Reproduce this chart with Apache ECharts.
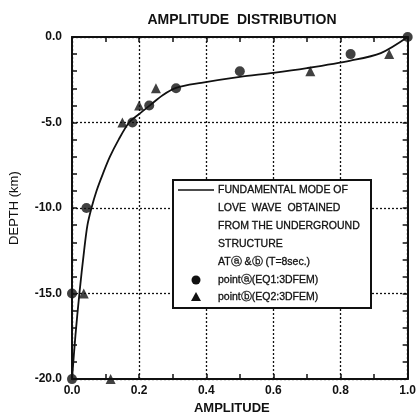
<!DOCTYPE html>
<html>
<head>
<meta charset="utf-8">
<script src="https://cdn.jsdelivr.net/npm/echarts@6/dist/echarts.min.js"></script>
<style>
  html, body { margin: 0; padding: 0; background: #fff; }
  #chart { width: 419px; height: 420px; }
</style>
</head>
<body>
<div id="chart"></div>
<script>
// Love-wave amplitude vs depth: theoretical mode shape and 3D FEM samples
const titleText = 'AMPLITUDE  DISTRIBUTION';
const xName = 'AMPLITUDE';
const yName = 'DEPTH (km)';

// Fundamental mode curve: [amplitude, depth km]
const modeCurve = [
  [1.0, 0], [0.92, -0.94], [0.83, -1.38], [0.70, -1.82], [0.60, -2.1],
  [0.50, -2.33], [0.385, -2.68], [0.31, -2.97], [0.27, -3.4], [0.232, -4.0],
  [0.2, -4.5], [0.17, -5.0], [0.139, -6.0], [0.113, -7.0], [0.092, -8.0],
  [0.073, -9.0], [0.058, -10.0], [0.046, -11.0], [0.036, -12.5], [0.022, -15.0],
  [0.01, -17.5], [0.0, -20.0]
];

// point (a), EQ1 3D FEM
const pointA = [
  [1.0, 0], [0.83, -1.0], [0.50, -2.0], [0.31, -3.0], [0.23, -4.0],
  [0.18, -5.0], [0.043, -10.0], [0.0, -15.0], [0.0, -20.0]
];

// point (b), EQ2 3D FEM
const pointB = [
  [0.945, -1.0], [0.71, -2.0], [0.25, -3.0], [0.20, -4.0],
  [0.15, -5.0], [0.035, -15.0], [0.115, -20.0]
];

const legendLines = [
  'FUNDAMENTAL MODE OF',
  'LOVE  WAVE  OBTAINED',
  'FROM THE UNDERGROUND',
  'STRUCTURE',
  'AT\u24D0 &\u24D1 (T=8sec.)'
];
const legendA = 'point\u24D0(EQ1:3DFEM)';
const legendB = 'point\u24D1(EQ2:3DFEM)';

const FONT = 'Arial, "Liberation Sans", Helvetica, sans-serif';
const INK = '#111';

const chart = echarts.init(document.getElementById('chart'), null, { renderer: 'canvas' });

function frameAxis(extra) {
  return Object.assign({
    axisLine: { show: true, onZero: false, lineStyle: { color: INK, width: 2 } },
    axisTick: { show: true, inside: true, length: 5, lineStyle: { color: INK, width: 1.5 } },
    minorTick: { show: true, length: 5, lineStyle: { color: INK, width: 1.5 } },
    splitLine: { show: false }
  }, extra);
}

const legendX = 173, legendY = 180, legendW = 198, legendH = 128;
const graphics = [
  { type: 'rect', z: 100, shape: { x: legendX, y: legendY, width: legendW, height: legendH },
    style: { fill: '#fff', stroke: INK, lineWidth: 2 } },
  { type: 'line', z: 101, shape: { x1: 178, y1: 190, x2: 214, y2: 190 },
    style: { stroke: INK, lineWidth: 1.5 } }
];
legendLines.forEach((t, i) => {
  graphics.push({ type: 'text', z: 101, x: 218, y: 190 + i * 18,
    style: { text: t, fill: INK, font: '10.5px ' + FONT, textVerticalAlign: 'middle',
      stroke: INK, lineWidth: 0.3 } });
});
graphics.push(
  { type: 'circle', z: 101, shape: { cx: 196, cy: 280, r: 4.5 }, style: { fill: INK } },
  { type: 'text', z: 101, x: 218, y: 280,
    style: { text: legendA, fill: INK, font: '10.5px ' + FONT, textVerticalAlign: 'middle',
      stroke: INK, lineWidth: 0.3 } },
  { type: 'polygon', z: 101, shape: { points: [[196, 292], [191, 301], [201, 301]] }, style: { fill: INK } },
  { type: 'text', z: 101, x: 218, y: 297,
    style: { text: legendB, fill: INK, font: '10.5px ' + FONT, textVerticalAlign: 'middle',
      stroke: INK, lineWidth: 0.3 } }
);

chart.setOption({
  backgroundColor: '#fff',
  animation: false,
  title: {
    text: titleText, left: 237, top: 8, textAlign: 'center',
    textStyle: { fontFamily: FONT, fontSize: 14, fontWeight: 'bold', color: INK }
  },
  grid: { left: 68, right: 8, top: 37, bottom: 37 },
  xAxis: [
    frameAxis({
      type: 'value', min: 0, max: 1, interval: 0.2, position: 'bottom',
      minorTick: { show: true, splitNumber: 2, length: 5, lineStyle: { color: INK, width: 1.5 } },
      axisLabel: { color: INK, fontFamily: FONT, fontSize: 12, fontWeight: 'bold', margin: 6,
        formatter: v => v.toFixed(1) },
      splitLine: { show: true, lineStyle: { color: INK, width: 1.3, type: [2, 2] } },
      name: xName, nameLocation: 'middle', nameGap: 22,
      nameTextStyle: { color: INK, fontFamily: FONT, fontSize: 13, fontWeight: 'bold', padding: [0, 16, 0, 0] }
    }),
    frameAxis({
      type: 'value', min: 0, max: 1, interval: 0.2, position: 'top',
      minorTick: { show: true, splitNumber: 2, length: 5, lineStyle: { color: INK, width: 1.5 } },
      axisLabel: { show: false }
    })
  ],
  yAxis: [
    frameAxis({
      type: 'value', min: -20, max: 0, interval: 5, position: 'left',
      minorTick: { show: true, splitNumber: 5, length: 5, lineStyle: { color: INK, width: 1.5 } },
      axisLabel: { color: INK, fontFamily: FONT, fontSize: 12, fontWeight: 'bold', margin: 10,
        formatter: v => v.toFixed(1) },
      splitLine: { show: true, lineStyle: { color: INK, width: 1.3, type: [2, 2] } },
      name: yName, nameLocation: 'middle', nameGap: 51, nameRotate: 90,
      nameTextStyle: { color: INK, fontFamily: FONT, fontSize: 13 }
    }),
    frameAxis({
      type: 'value', min: -20, max: 0, interval: 5, position: 'right',
      minorTick: { show: true, splitNumber: 5, length: 5, lineStyle: { color: INK, width: 1.5 } },
      axisLabel: { show: false }
    })
  ],
  series: [
    {
      name: 'FUNDAMENTAL MODE', type: 'line', data: modeCurve, smooth: 0.3,
      showSymbol: false, symbol: 'none', clip: false,
      lineStyle: { color: INK, width: 1.8 }, z: 3
    },
    {
      name: 'point a', type: 'scatter', data: pointA, symbol: 'circle', symbolSize: 10,
      itemStyle: { color: INK }, clip: false, z: 4
    },
    {
      name: 'point b', type: 'scatter', data: pointB, symbol: 'triangle', symbolSize: 10,
      itemStyle: { color: INK }, clip: false, z: 4
    }
  ],
  graphic: graphics
});
</script>
</body>
</html>
